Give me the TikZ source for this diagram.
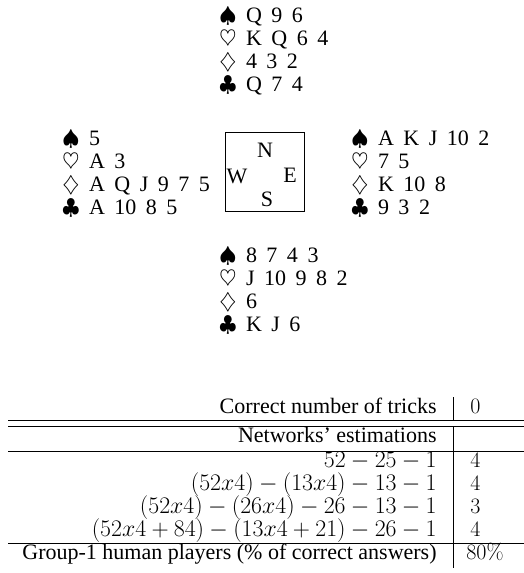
\RequirePackage{fix-cm}
\documentclass[tikz,border=0pt]{standalone}
\usepackage[no-math]{fontspec}
\setmainfont{Liberation Serif}
\begin{document}
\begin{tikzpicture}
  [x=1pt,y=-1pt,line width=0.8pt,
   every node/.style={inner sep=0pt,font=\fontsize{22}{24}\selectfont},
   hand/.style={anchor=base west,execute at begin node={\spaceskip=9.5pt\relax}},
   cell/.style={anchor=base east},
   formula/.style={cell,font=\fontsize{23.8}{24}\selectfont},
   val/.style={anchor=base west}]
  \useasboundingbox (0,0) rectangle (524,573);
  % the four hands
  \foreach \seat/\hx/\hy/\spd/\hrt/\dmd/\clb in {
      north/219/22/Q 9 6/K Q 6 4/4 3 2/Q 7 4,
      west/62/145/5/A 3/A Q J 9 7 5/A 10 8 5,
      east/351/145/A K J 10 2/7 5/K 10 8/9 3 2,
      south/219/262/8 7 4 3/J 10 9 8 2/6/K J 6} {
    \node[hand] (\seat-s) at (\hx,\hy) {$\spadesuit$ \spd};
    \node[hand] (\seat-h) at (\hx,\hy+23.3) {$\heartsuit$ \hrt};
    \node[hand] (\seat-d) at (\hx,\hy+46.6) {$\diamondsuit$ \dmd};
    \node[hand] (\seat-c) at (\hx,\hy+69.9) {$\clubsuit$ \clb};
  }
  % compass
  \node[draw,minimum size=79pt] (board) at (264.5,171.5) {};
  \node (N) at (265,150) {N};
  \node (W) at (237,176) {W};
  \node (E) at (290,175) {E};
  \node (S) at (267,199) {S};
  % table
  \node[cell]    (r1) at (437,413) {Correct number of tricks};
  \node[val]     (v1) at (470,413) {$0$};
  \node[cell]    (r2) at (437,442) {Networks' estimations};
  \node[formula] (r3) at (437,467) {$52-25-1$};
  \node[val]     (v3) at (470,467) {$4$};
  \node[formula] (r4) at (437,490) {$(52x4)-(13x4)-13-1$};
  \node[val]     (v4) at (470,490) {$4$};
  \node[formula] (r5) at (437,513) {$(52x4)-(26x4)-26-13-1$};
  \node[val]     (v5) at (470,513) {$3$};
  \node[formula] (r6) at (437,536) {$(52x4+84)-(13x4+21)-26-1$};
  \node[val]     (v6) at (470,536) {$4$};
  \node[cell]    (r7) at (437,559) {Group-1 human players (\% of correct answers)};
  \node[val]     (v7) at (466,559) {$80\%$};
  \foreach \ly in {420,426,451,543}
    \draw (8,\ly) -- (524,\ly);
  \draw (453,397) -- (453,420);
  \draw (453,426) -- (453,568);
\end{tikzpicture}
\end{document}
